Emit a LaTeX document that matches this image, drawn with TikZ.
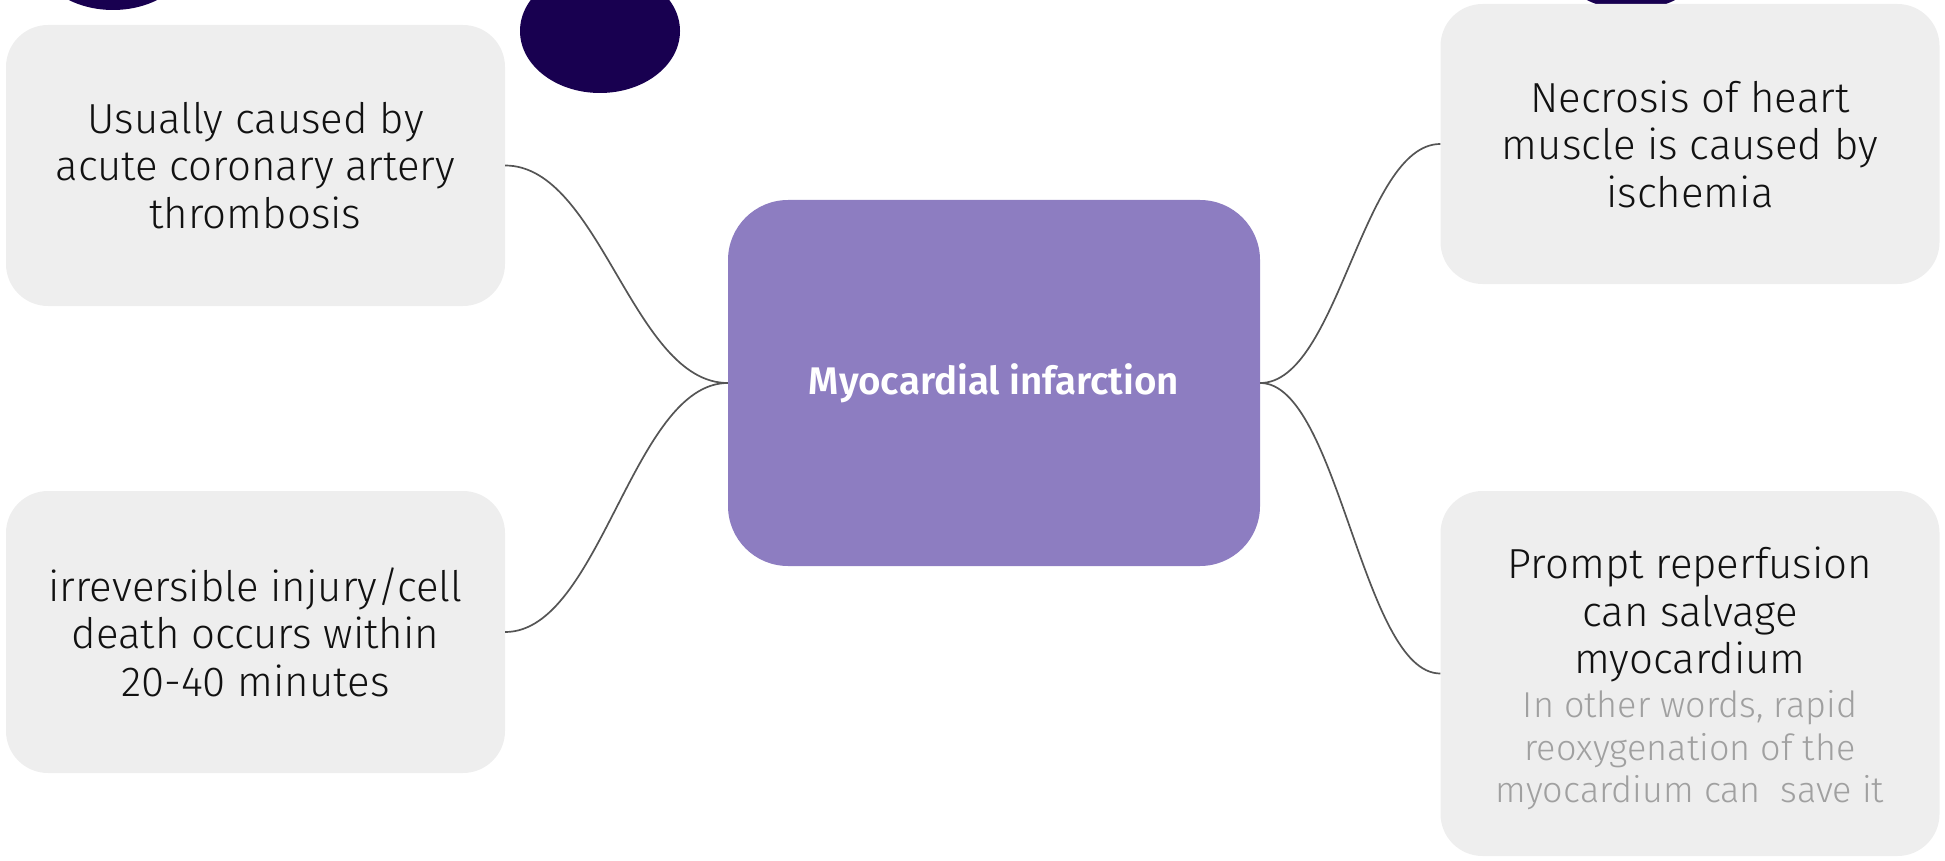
\documentclass[tikz,border=0pt]{standalone}
\usepackage{fontspec}
\setmainfont{Fira Sans}[UprightFont=* Light, BoldFont=* SemiBold]
\definecolor{leafgray}{HTML}{EEEEEE}
\definecolor{mipurple}{HTML}{8D7DC1}
\definecolor{blobblue}{HTML}{180050}
\definecolor{linkgray}{HTML}{555555}
\definecolor{subgray}{HTML}{A0A0A0}
\definecolor{textblack}{HTML}{111111}
\begin{document}
\begin{tikzpicture}[x=1pt,y=-1pt,
  leaf/.style={fill=leafgray, rounded corners=42pt, minimum width=499pt, inner sep=0pt,
    align=center, text=textblack, font=\fontsize{42}{47.5}\selectfont},
  link/.style={draw=linkgray, line width=1.7pt},
  blob/.style={fill=blobblue}]
\useasboundingbox (0,0) rectangle (1945,861);
\fill[blob] (113,-50) ellipse [x radius=80, y radius=60];
\fill[blob] (600,31) ellipse [x radius=80, y radius=62];
\fill[blob] (1631,-50) ellipse [x radius=80, y radius=60];
\node[leaf, minimum height=281pt] (tl) at (255.5,165.5)
  {Usually caused by\\acute coronary artery\\thrombosis};
\node[leaf, minimum height=282pt] (bl) at (255.5,632)
  {irreversible injury/cell\\death occurs within\\20-40 minutes};
\node[leaf, minimum height=280pt] (tr) at (1690,144)
  {Necrosis of heart\\muscle is caused by\\ischemia};
\node[leaf, minimum height=365pt] (br) at (1690,673.5)
  {\rule{0pt}{42pt}Prompt reperfusion\\can salvage\\myocardium\\[-3.5pt]
   {\color{subgray}\fontsize{36}{42}\selectfont In other words, rapid}\\[-5pt]
   {\color{subgray}\fontsize{36}{42}\selectfont reoxygenation of the}\\[-5pt]
   {\color{subgray}\fontsize{36}{42}\selectfont myocardium can\ \ save it}};
\node[fill=mipurple, rounded corners=60pt, minimum width=532pt, minimum height=366pt,
  inner sep=0pt, text=white, font=\bfseries\fontsize{38.5}{44}\selectfont] (mi) at (994,383)
  {Myocardial infarction};
\draw[link] (tl.east) .. controls +(95,0) and +(-95,0) .. (mi.west);
\draw[link] (bl.east) .. controls +(95,0) and +(-95,0) .. (mi.west);
\draw[link] (mi.east) .. controls +(78,0) and +(-78,0) .. (tr.west);
\draw[link] (mi.east) .. controls +(78,0) and +(-78,0) .. (br.west);
\end{tikzpicture}
\end{document}
